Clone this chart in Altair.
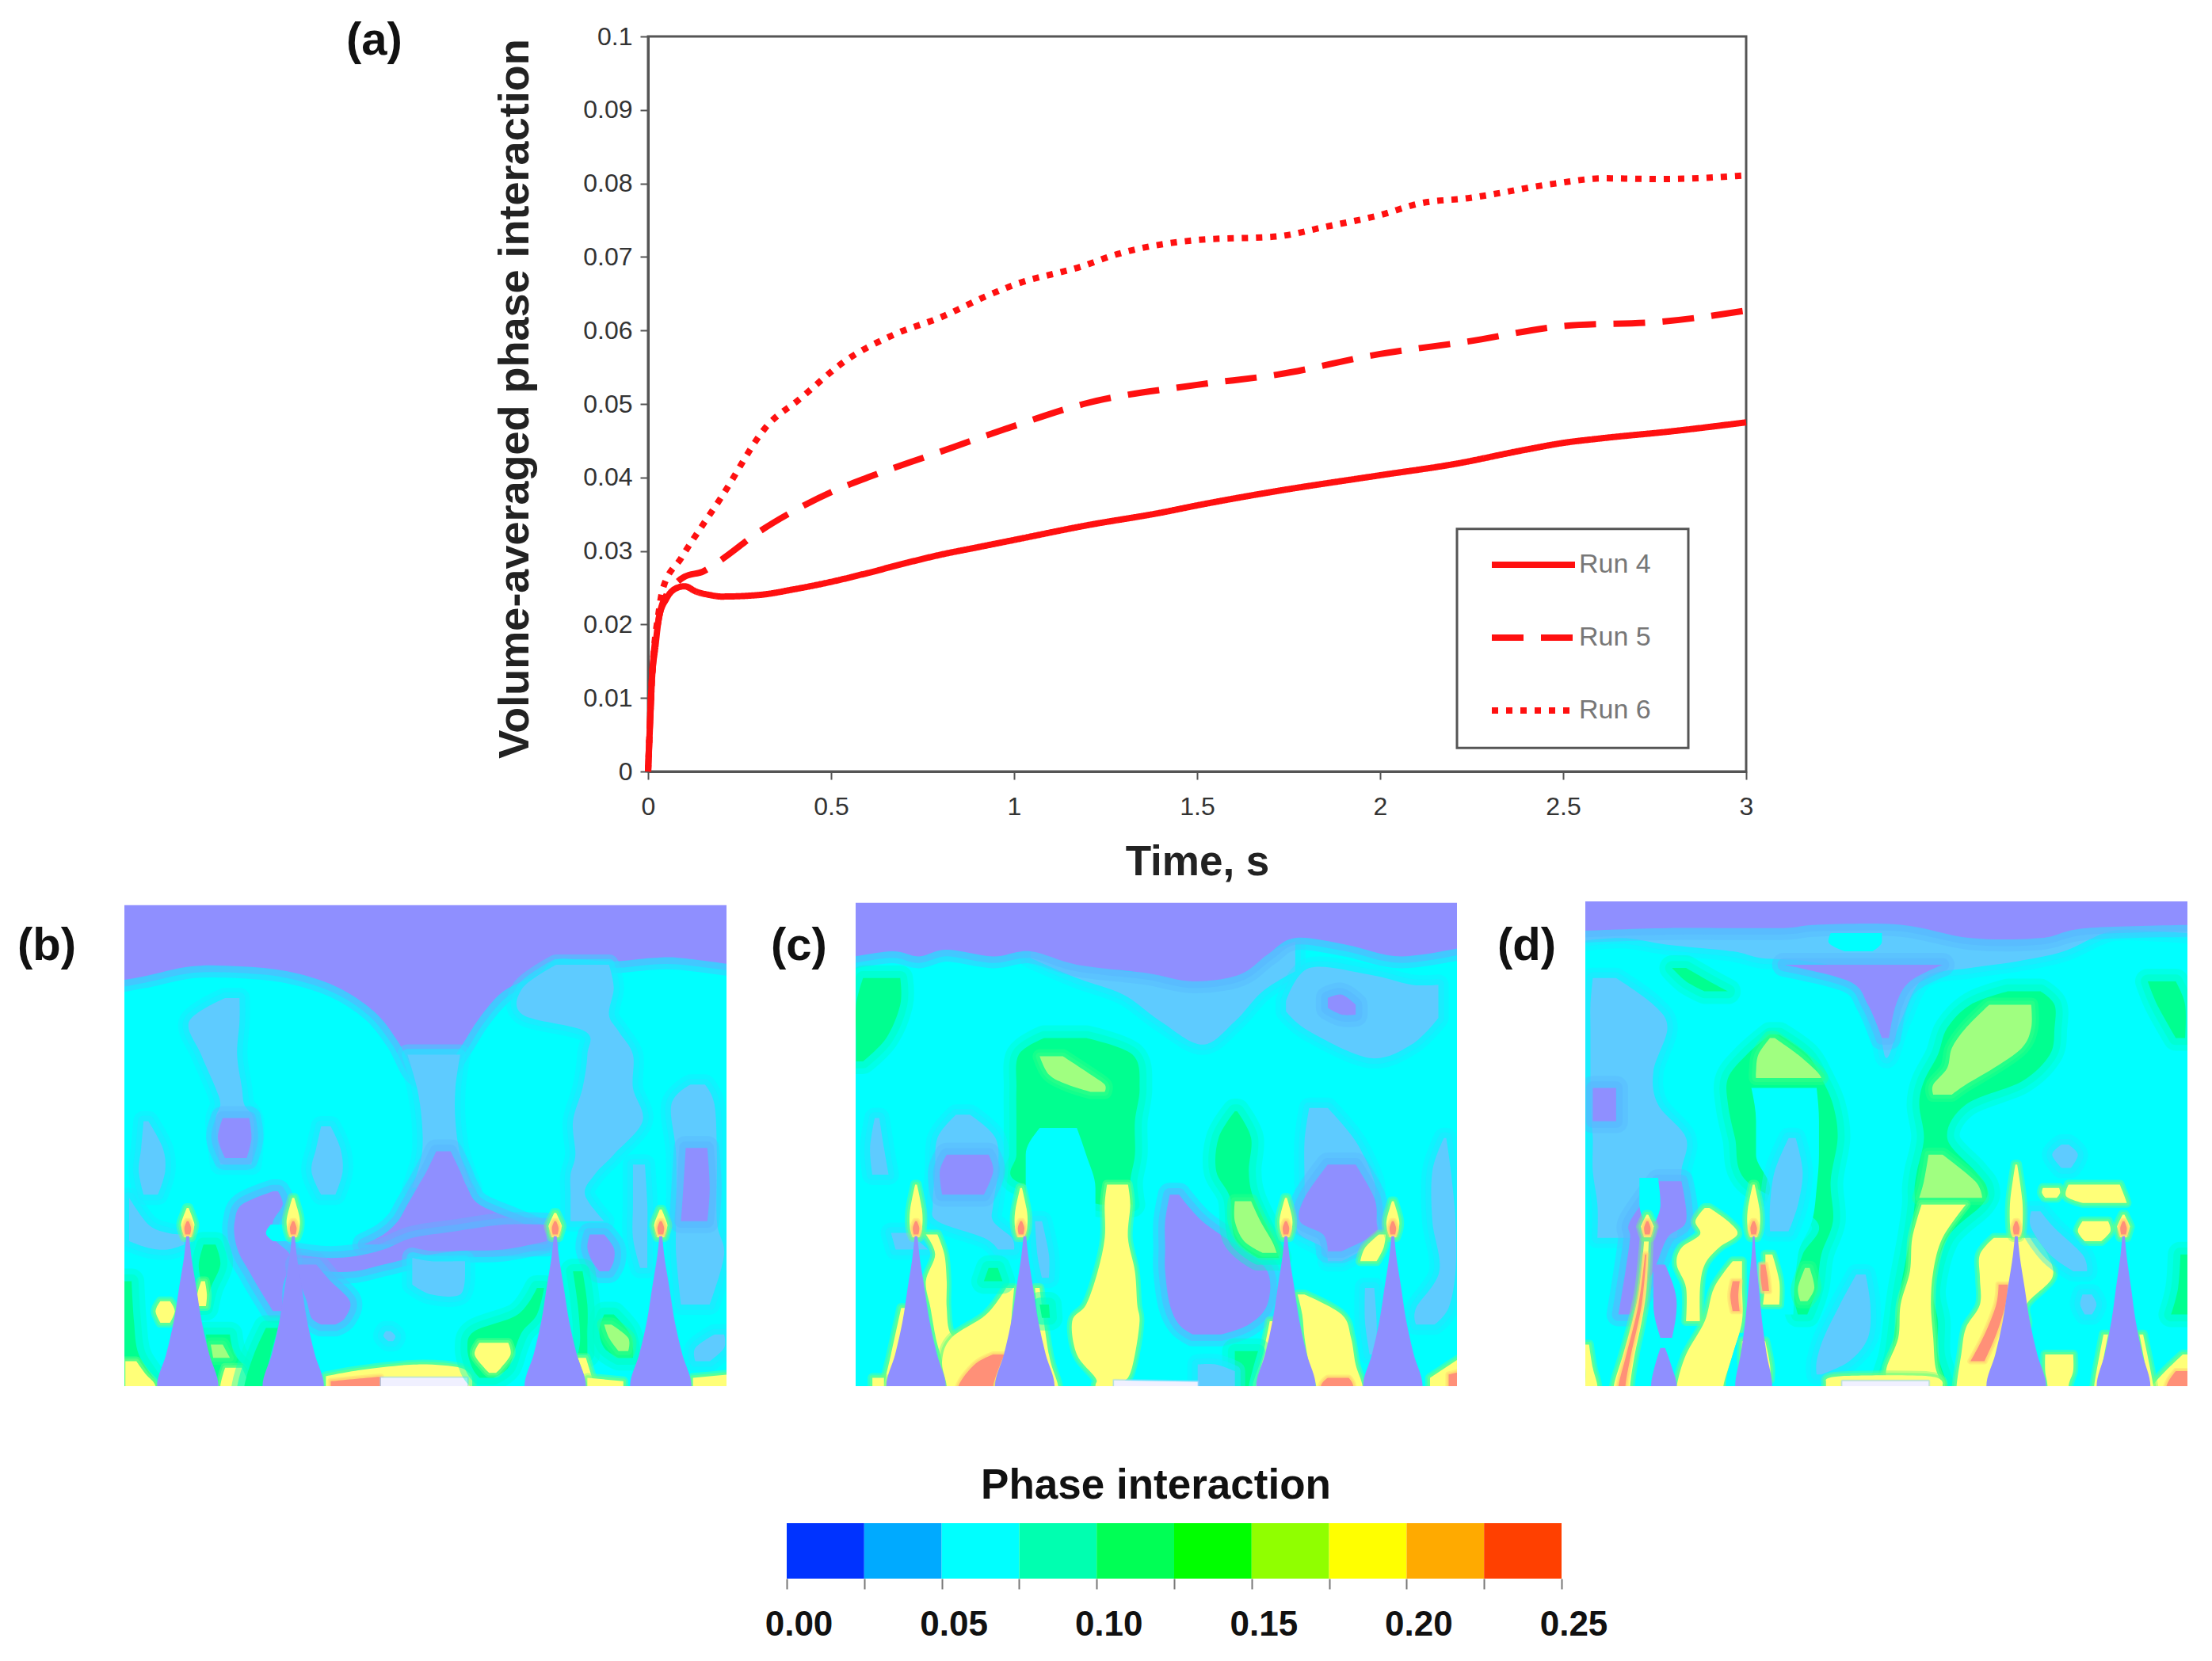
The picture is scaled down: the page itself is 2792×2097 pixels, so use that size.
import altair as alt
import pandas as pd

# ---------- panel (a) curves ----------
RUN4_T = [0, .005, .01, .02, .03, .05, .08, .1, .13, .17, .2, .3, .4, .5, .6, .7, .8, .9, 1, 1.2, 1.4, 1.5, 1.7, 2, 2.2, 2.4, 2.5, 2.6, 2.8, 3]
RUN4_V = [0, .006, .012, .017, .021, .0235, .025, .0252, .0245, .024, .0238, .024, .0248, .0258, .027, .0283, .0295, .0305, .0315, .0335, .0352, .0362, .038, .0403, .0418, .0438, .0447, .0453, .0463, .0475]
RUN5_T = [0, .01, .03, .05, .08, .1, .15, .2, .3, .4, .5, .6, .77, 1, 1.19, 1.5, 1.72, 2, 2.24, 2.5, 2.77, 3]
RUN5_V = [0, .012, .021, .024, .0258, .0265, .0272, .0288, .0325, .0355, .038, .04, .043, .047, .05, .0526, .054, .0568, .0585, .0606, .0612, .0627]
RUN6_T = [0, .01, .03, .04, .09, .2, .33, .41, .54, .67, .8, .93, 1, 1.19, 1.27, 1.5, 1.72, 1.85, 2, 2.11, 2.24, 2.48, 2.61, 2.77, 3]
RUN6_V = [0, .012, .022, .0248, .029, .0373, .0473, .0505, .0559, .0594, .0618, .0648, .0662, .0688, .0702, .0723, .0728, .0741, .0757, .0773, .078, .08, .0807, .0806, .0811]
RUNS = ["Run 4", "Run 5", "Run 6"]
X_TICKS = [0, .5, 1, 1.5, 2, 2.5, 3]
Y_TICKS = [0, .01, .02, .03, .04, .05, .06, .07, .08, .09, .1]
LEGEND_BOX = {"x": 2.21, "x2": 2.842, "y": .033, "y2": .0032}

# ---------- colour scale ----------
BAR_LOW = [0, .025, .05, .075, .1, .125, .15, .175, .2, .225]
BAR_HIGH = [.025, .05, .075, .1, .125, .15, .175, .2, .225, .25]
BAR_COLOURS = ["#0033ff", "#00aaff", "#00ffff", "#00ffb0", "#00ff55", "#00ff00", "#90ff00", "#ffff00", "#ffaa00", "#ff4000"]
BAR_TICKS = [0, .025, .05, .075, .1, .125, .15, .175, .2, .225, .25]

# ---------- contour regions: (level, orientation, [(along, low, high), ...]) ----------
# "h" rows are (y, x-left, x-right); "v" rows are (x, y-top, y-bottom)
STYLE = {
    "cy": ("#00ffff", None, 0),
    "nd": ("#8f8fff", None, 0),
    "bk": ("#ffffff", None, 0),
    "pu": ("#8f8fff", "#58b8ff", 30),
    "mb": ("#5ecbff", "#20e8ff", 26),
    "gr": ("#00ff90", "#00ffc8", 32),
    "lg": ("#a0ff80", "#30ff88", 18),
    "ye": ("#ffff78", "#70ff80", 12),
    "or": ("#ff9078", "#ffd070", 8),
    "wh": ("#f0f0ff", "#a0d8ff", 4),
}
NEEDLE = [(1045, 3), (1100, 7), (1200, 18), (1300, 29), (1400, 45), (1495, 64)]

PANEL_B = [
    ("pu", "v", [(260, 50, 285), (300, 50, 265), (400, 50, 235), (500, 50, 235), (600, 50, 250), (700, 50, 295), (780, 50, 370), (830, 50, 460), (870, 50, 560), (920, 50, 560), (960, 50, 480), (1000, 50, 390), (1050, 50, 310), (1120, 50, 260), (1160, 50, 215), (1210, 50, 215), (1280, 50, 220), (1360, 50, 210), (1420, 50, 210), (1515, 50, 235)]),
    ("mb", "h", [(500, 850, 960), (600, 870, 950), (700, 880, 950), (800, 880, 960), (900, 860, 985)]),
    ("mb", "h", [(230, 1160, 1270), (300, 1090, 1280), (380, 1090, 1270), (430, 1220, 1290), (500, 1225, 1320), (600, 1215, 1320), (700, 1195, 1340), (800, 1200, 1280), (860, 1190, 1240), (920, 1190, 1220), (1000, 1190, 1260)]),
    ("pu", "h", [(790, 910, 940), (850, 890, 960), (900, 870, 975), (950, 850, 1000), (1000, 830, 1080), (1040, 800, 1140), (1070, 760, 1140)]),
    ("pu", "v", [(620, 1100, 1130), (680, 1110, 1150), (740, 1105, 1150), (800, 1085, 1130), (860, 1050, 1110), (950, 1030, 1090), (1050, 1010, 1085), (1140, 1010, 1060)]),
    ("mb", "v", [(860, 1110, 1190), (900, 1120, 1220), (960, 1120, 1220), (970, 1120, 1150)]),
    ("mb", "h", [(330, 470, 500), (400, 395, 500), (500, 420, 495), (600, 450, 505), (650, 460, 510), (700, 450, 530), (830, 460, 525)]),
    ("pu", "h", [(690, 465, 520), (750, 455, 525), (810, 470, 515)]),
    ("mb", "h", [(700, 300, 310), (780, 295, 340), (850, 290, 345), (920, 300, 330)]),
    ("mb", "h", [(715, 670, 690), (780, 660, 710), (850, 650, 715), (920, 670, 700)]),
    ("mb", "v", [(270, 930, 1060), (310, 1010, 1080), (350, 1035, 1085), (385, 1040, 1070)]),
    ("pu", "h", [(910, 570, 580), (950, 505, 590), (1000, 490, 570), (1050, 490, 570), (1100, 500, 605), (1150, 520, 600), (1200, 540, 590), (1270, 570, 590)]),
    ("pu", "h", [(1130, 620, 660), (1180, 625, 690), (1240, 640, 730), (1290, 650, 720), (1310, 670, 700)]),
    ("cy", "h", [(1010, 565, 590), (1035, 555, 600), (1060, 570, 600)]),
    ("pu", "h", [(1040, 1230, 1260), (1080, 1225, 1280), (1120, 1235, 1280), (1150, 1250, 1270)]),
    ("mb", "h", [(830, 1320, 1345), (950, 1320, 1350), (1050, 1320, 1350), (1140, 1335, 1350)]),
    ("mb", "h", [(590, 1440, 1470), (650, 1400, 1490), (800, 1410, 1495), (1000, 1410, 1495), (1100, 1410, 1510), (1250, 1420, 1480)]),
    ("pu", "h", [(780, 1430, 1475), (900, 1425, 1480), (1000, 1420, 1475)]),
    ("gr", "h", [(1070, 425, 450), (1130, 415, 460), (1200, 420, 440), (1260, 410, 430)]),
    ("ye", "h", [(1180, 420, 428), (1220, 412, 432), (1255, 415, 430)]),
    ("ye", "h", [(1240, 335, 355), (1270, 325, 365), (1305, 335, 355)]),
    ("gr", "h", [(1180, 260, 275), (1300, 260, 280), (1400, 260, 290), (1495, 260, 330)]),
    ("ye", "h", [(1420, 262, 285), (1460, 262, 305), (1495, 262, 325)]),
    ("gr", "h", [(1340, 430, 480), (1400, 435, 490), (1450, 440, 520), (1495, 455, 530)]),
    ("lg", "h", [(1370, 440, 465), (1410, 445, 480)]),
    ("ye", "h", [(1440, 470, 505), (1495, 460, 520)]),
    ("gr", "h", [(1320, 555, 580), (1400, 530, 565), (1495, 510, 550)]),
    ("ye", "v", [(680, 1465, 1495), (760, 1445, 1495), (870, 1430, 1495), (960, 1440, 1495), (985, 1470, 1495)]),
    ("or", "v", [(690, 1480, 1495), (780, 1468, 1495), (795, 1468, 1495)]),
    ("wh", "v", [(795, 1470, 1495), (975, 1470, 1495)]),
    ("gr", "h", [(1200, 1120, 1135), (1280, 1080, 1120), (1330, 990, 1090), (1380, 975, 1075), (1440, 985, 1060), (1470, 1000, 1030)]),
    ("ye", "h", [(1365, 1000, 1060), (1400, 990, 1065), (1440, 1010, 1045), (1455, 1020, 1035)]),
    ("gr", "h", [(1150, 1195, 1215), (1250, 1205, 1225), (1350, 1210, 1225), (1400, 1205, 1225)]),
    ("ye", "h", [(1410, 1205, 1222), (1470, 1220, 1235), (1495, 1225, 1240)]),
    ("gr", "h", [(1280, 1260, 1280), (1330, 1250, 1310), (1380, 1260, 1320), (1410, 1290, 1320)]),
    ("lg", "h", [(1310, 1260, 1275), (1350, 1270, 1310), (1390, 1290, 1310)]),
    ("ye", "v", [(1225, 1470, 1495), (1300, 1480, 1495)]),
    ("ye", "v", [(1445, 1470, 1495), (1515, 1455, 1495)]),
    ("mb", "h", [(1340, 1490, 1510), (1380, 1450, 1510), (1420, 1450, 1480)]),
    ("mb", "h", [(1330, 805, 815), (1345, 800, 825), (1360, 810, 820)]),
]
FLAMES_B = [(392, 960), (612, 930), (1158, 975), (1378, 965)]
NEEDLES_B = [392, 612, 1158, 1378]

PANEL_C = [
    ("mb", "v", [(600, 190, 210), (700, 210, 270), (800, 250, 320), (880, 250, 400), (970, 270, 470), (1040, 250, 400), (1100, 200, 310), (1170, 160, 250)]),
    ("pu", "v", [(224, 45, 215), (300, 45, 190), (360, 45, 205), (420, 45, 185), (520, 45, 205), (600, 45, 190), (700, 45, 230), (850, 45, 255), (950, 45, 280), (1050, 45, 260), (1110, 45, 200), (1170, 45, 150), (1280, 45, 170), (1400, 45, 205), (1518, 45, 170)]),
    ("mb", "v", [(1150, 340, 370), (1200, 240, 430), (1330, 260, 510), (1420, 290, 470), (1478, 290, 390)]),
    ("pu", "v", [(1240, 330, 360), (1270, 320, 380), (1300, 350, 380)]),
    ("gr", "h", [(270, 240, 320), (350, 225, 320), (450, 225, 290), (520, 225, 240)]),
    ("gr", "h", [(450, 630, 720), (500, 575, 820), (600, 570, 835), (700, 570, 825), (800, 570, 825), (880, 570, 815), (950, 750, 820)]),
    ("cy", "h", [(720, 620, 700), (800, 590, 720), (900, 590, 740), (1000, 590, 740), (1100, 640, 740), (1200, 640, 720)]),
    ("lg", "h", [(505, 620, 670), (560, 640, 730), (590, 680, 760), (612, 730, 760)]),
    ("ye", "h", [(890, 765, 810), (950, 760, 815), (1050, 760, 810), (1150, 745, 825), (1250, 720, 830), (1300, 690, 835), (1400, 700, 825), (1470, 740, 810), (1495, 740, 780)]),
    ("mb", "h", [(680, 440, 470), (750, 400, 525), (850, 395, 530), (950, 390, 520), (1000, 400, 520), (1050, 500, 560), (1085, 530, 565)]),
    ("pu", "h", [(800, 420, 510), (850, 405, 520), (920, 410, 500)]),
    ("mb", "h", [(690, 265, 275), (780, 255, 285), (860, 260, 295)]),
    ("mb", "h", [(1035, 300, 340), (1085, 310, 380)]),
    ("mb", "h", [(1000, 610, 625), (1100, 615, 640), (1170, 625, 640)]),
    ("ye", "h", [(1040, 375, 400), (1100, 395, 415), (1180, 375, 420), (1260, 385, 420), (1340, 395, 430), (1370, 400, 480), (1420, 410, 530), (1495, 420, 525)]),
    ("ye", "h", [(1200, 548, 565), (1280, 505, 560), (1350, 430, 555), (1420, 410, 545), (1495, 420, 520)]),
    ("or", "h", [(1400, 520, 545), (1430, 480, 535), (1495, 445, 520)]),
    ("ye", "h", [(1260, 322, 335), (1400, 300, 315), (1495, 285, 295)]),
    ("gr", "h", [(1140, 510, 530), (1180, 500, 540)]),
    ("pu", "h", [(920, 900, 920), (1000, 890, 970), (1080, 890, 1050), (1150, 890, 1110), (1250, 900, 1110), (1310, 920, 1070), (1340, 950, 1010)]),
    ("gr", "h", [(670, 1040, 1045), (750, 1005, 1075), (850, 1000, 1070), (930, 1030, 1080), (1050, 1040, 1120), (1110, 1090, 1135)]),
    ("lg", "h", [(940, 1040, 1075), (1000, 1040, 1095), (1060, 1060, 1120), (1095, 1100, 1130)]),
    ("mb", "h", [(660, 1200, 1240), (760, 1190, 1300), (880, 1190, 1340), (950, 1190, 1340), (1030, 1175, 1350), (1080, 1230, 1320), (1120, 1240, 1270)]),
    ("pu", "h", [(830, 1240, 1300), (930, 1190, 1340), (1000, 1180, 1345), (1040, 1230, 1340), (1090, 1240, 1270)]),
    ("ye", "h", [(1040, 1350, 1365), (1080, 1320, 1360), (1120, 1310, 1345)]),
    ("ye", "h", [(1220, 1175, 1190), (1280, 1185, 1270), (1350, 1190, 1290), (1430, 1200, 1300), (1495, 1215, 1315)]),
    ("or", "h", [(1470, 1240, 1285), (1495, 1225, 1295)]),
    ("ye", "h", [(1300, 1115, 1125), (1400, 1100, 1110), (1495, 1078, 1090)]),
    ("gr", "h", [(1390, 1040, 1090), (1495, 1040, 1070)]),
    ("mb", "h", [(750, 1490, 1495), (850, 1465, 1505), (1000, 1465, 1515), (1150, 1480, 1515), (1260, 1430, 1500), (1310, 1430, 1470)]),
    ("mb", "h", [(1200, 1320, 1340), (1300, 1320, 1345), (1400, 1330, 1345)]),
    ("ye", "v", [(1460, 1470, 1495), (1518, 1380, 1495)]),
    ("or", "v", [(1500, 1460, 1495), (1518, 1440, 1495)]),
    ("mb", "v", [(960, 1430, 1495), (1000, 1430, 1495), (1040, 1450, 1495)]),
    ("wh", "v", [(780, 1478, 1495), (960, 1482, 1495)]),
    ("ye", "v", [(260, 1470, 1495), (285, 1470, 1495)]),
    ("ye", "h", [(1200, 610, 620), (1400, 625, 640), (1495, 650, 660)]),
    ("gr", "h", [(1250, 620, 640), (1290, 625, 642)]),
]
FLAMES_C = [(354, 890), (580, 900), (1150, 930), (1380, 940)]
NEEDLES_C = [354, 588, 1150, 1380]

PANEL_D = [
    ("mb", "v", [(224, 40, 165), (300, 40, 150), (400, 40, 170), (540, 40, 190), (600, 40, 210), (700, 40, 220), (800, 40, 260), (850, 40, 400), (870, 40, 510), (900, 40, 400), (950, 40, 270), (1050, 40, 240), (1150, 40, 220), (1250, 40, 190), (1350, 40, 130), (1450, 40, 130), (1515, 40, 140)]),
    ("pu", "v", [(224, 40, 130), (400, 40, 120), (640, 40, 120), (720, 40, 110), (900, 40, 110), (1050, 40, 150), (1200, 40, 150), (1300, 40, 120), (1515, 40, 110)]),
    ("pu", "h", [(230, 650, 990), (280, 790, 920), (350, 830, 890), (450, 860, 875)]),
    ("cy", "h", [(135, 750, 860), (160, 745, 860), (190, 780, 840)]),
    ("mb", "h", [(270, 240, 290), (350, 235, 370), (420, 235, 400), (550, 235, 370), (650, 235, 380), (750, 240, 440), (850, 240, 430), (950, 250, 430), (1050, 250, 420)]),
    ("pu", "h", [(600, 240, 290), (700, 240, 290)]),
    ("pu", "h", [(880, 380, 430), (1000, 320, 440), (1050, 320, 400), (1150, 310, 370), (1280, 295, 320)]),
    ("cy", "h", [(870, 340, 380), (950, 340, 385), (1000, 350, 375)]),
    ("gr", "h", [(240, 410, 440), (280, 440, 490), (310, 480, 530)]),
    ("gr", "h", [(440, 620, 640), (500, 570, 700), (570, 530, 730), (650, 530, 755), (750, 545, 765), (880, 570, 750), (1000, 720, 755), (1100, 690, 730), (1200, 670, 720), (1280, 680, 700)]),
    ("cy", "h", [(600, 580, 720), (700, 590, 725), (800, 590, 725), (900, 620, 720), (1000, 600, 710), (1100, 620, 680), (1280, 650, 670)]),
    ("lg", "h", [(450, 620, 630), (500, 595, 680), (550, 590, 720), (570, 590, 730)]),
    ("lg", "h", [(1140, 695, 705), (1200, 680, 715), (1240, 685, 700)]),
    ("mb", "h", [(750, 660, 675), (850, 630, 690), (950, 620, 680), (1030, 620, 660)]),
    ("gr", "h", [(310, 1130, 1200), (350, 1050, 1230), (420, 1000, 1230), (500, 980, 1220), (580, 950, 1160), (650, 940, 1040), (750, 950, 1000), (850, 935, 1060), (900, 930, 1085), (950, 930, 1075), (1050, 920, 1000), (1200, 900, 970), (1300, 890, 980), (1400, 880, 980), (1495, 860, 1000)]),
    ("lg", "h", [(350, 1090, 1180), (420, 1040, 1180), (480, 1010, 1160), (540, 1000, 1100), (590, 970, 1040), (620, 970, 1010)]),
    ("lg", "h", [(800, 960, 990), (880, 950, 1060), (930, 940, 1075)]),
    ("ye", "h", [(950, 945, 1040), (1050, 925, 990), (1150, 920, 970), (1250, 900, 965), (1350, 895, 970), (1440, 870, 975), (1495, 870, 990)]),
    ("ye", "h", [(890, 1260, 1370), (925, 1255, 1380), (945, 1290, 1385)]),
    ("ye", "h", [(900, 1205, 1240), (915, 1203, 1242), (930, 1210, 1235)]),
    ("ye", "h", [(1000, 1290, 1345), (1030, 1280, 1350), (1060, 1295, 1330)]),
    ("ye", "h", [(960, 480, 490), (1000, 460, 530), (1040, 470, 550), (1080, 430, 510), (1130, 420, 480), (1200, 440, 470), (1300, 440, 470)]),
    ("ye", "h", [(1120, 540, 560), (1200, 500, 560), (1300, 480, 560), (1400, 440, 540), (1495, 420, 520)]),
    ("or", "h", [(1180, 540, 555), (1225, 535, 552), (1270, 540, 555)]),
    ("ye", "h", [(1100, 610, 625), (1180, 610, 640), (1250, 605, 640)]),
    ("or", "h", [(1130, 600, 610), (1170, 600, 615), (1210, 604, 618)]),
    ("ye", "h", [(1050, 1100, 1190), (1100, 1070, 1215), (1170, 1070, 1225), (1250, 1070, 1170), (1320, 1040, 1170), (1400, 1030, 1120), (1495, 1020, 1085)]),
    ("or", "h", [(1190, 1110, 1130), (1250, 1105, 1125), (1340, 1080, 1105), (1420, 1050, 1080)]),
    ("ye", "h", [(1400, 1210, 1270), (1450, 1210, 1270), (1495, 1215, 1260)]),
    ("mb", "h", [(970, 1180, 1200), (1020, 1180, 1230), (1100, 1220, 1290), (1150, 1270, 1300)]),
    ("mb", "h", [(770, 1245, 1260), (800, 1225, 1280), (840, 1245, 1265)]),
    ("mb", "h", [(1220, 1290, 1310), (1250, 1285, 1320), (1280, 1295, 1310)]),
    ("mb", "h", [(1160, 805, 825), (1250, 770, 835), (1350, 735, 830), (1420, 720, 790), (1460, 720, 730)]),
    ("gr", "h", [(280, 1430, 1490), (350, 1450, 1510), (450, 1490, 1510)]),
    ("ye", "h", [(1370, 220, 232), (1440, 224, 240), (1495, 224, 250)]),
    ("ye", "v", [(740, 1480, 1495), (770, 1465, 1495), (960, 1465, 1495), (990, 1490, 1495)]),
    ("wh", "v", [(775, 1480, 1495), (960, 1480, 1495)]),
    ("ye", "h", [(1400, 1505, 1515), (1495, 1440, 1515)]),
    ("or", "h", [(1450, 1490, 1515), (1495, 1470, 1515)]),
    ("gr", "h", [(1100, 1500, 1515), (1200, 1495, 1515), (1280, 1480, 1515)]),
    ("nd", "h", [(1130, 370, 395), (1250, 370, 420), (1350, 385, 410)]),
    ("nd", "h", [(1380, 385, 395), (1440, 372, 410), (1495, 365, 420)]),
    ("ye", "h", [(1060, 350, 360), (1200, 340, 355), (1300, 325, 345), (1400, 305, 330), (1495, 285, 320)]),
    ("or", "h", [(1100, 352, 355), (1250, 338, 345), (1400, 312, 322), (1495, 295, 310)]),
    ("cy", "h", [(1335, 555, 615), (1400, 540, 635), (1495, 525, 645)]),
    ("ye", "h", [(1360, 560, 610), (1430, 560, 620), (1475, 570, 620)]),
    ("or", "h", [(1390, 580, 595), (1440, 570, 610), (1465, 575, 605)]),
    ("ye", "h", [(1340, 1335, 1345), (1495, 1315, 1325)]),
    ("ye", "h", [(1340, 1412, 1420), (1495, 1432, 1442)]),
]
FLAMES_D = [(357, 980), (585, 890), (1148, 830), (1378, 980)]
NEEDLES_D = [(1148, 1.0), (1378, 0.9), (585, 0.62)]

PANEL_TOP = 40
PANEL_BOTTOM = 1495


def blob_layers(level, orient, rows, xdom, top):
    """One region as stacked areas: two soft halo strokes under a solid fill."""
    fill, stroke, sw = STYLE[level]
    rows = list(rows)
    x0, x1 = xdom
    if orient == "v":
        rows = [(x0 - 40 if t <= x0 + 2 else x1 + 40 if t >= x1 - 2 else t,
                 -60 if lo <= top else lo,
                 1560 if hi >= PANEL_BOTTOM - 5 else hi) for t, lo, hi in rows]
    elif rows[-1][0] >= PANEL_BOTTOM - 5:
        rows.append((1560, rows[-1][1], rows[-1][2]))
    df = pd.DataFrame(rows, columns=["t", "lo", "hi"])
    xs = alt.Scale(domain=xdom)
    ys = alt.Scale(domain=[PANEL_BOTTOM, PANEL_TOP])
    if orient == "h":
        enc = dict(y=alt.Y("t:Q", scale=ys, axis=None), x=alt.X("lo:Q", scale=xs, axis=None), x2="hi:Q")
    else:
        enc = dict(x=alt.X("t:Q", scale=xs, axis=None), y=alt.Y("lo:Q", scale=ys, axis=None), y2="hi:Q")
    curve = "monotone" if level in ("nd", "cy", "bk", "wh") else "cardinal"
    base = {"clip": True, "interpolate": curve, "fill": fill,
            "orient": "horizontal" if orient == "h" else "vertical"}
    out = []
    if stroke:
        out.append(alt.Chart(df).mark_area(stroke=stroke, strokeWidth=sw, strokeJoin="round", opacity=0.4, **base).encode(**enc))
        out.append(alt.Chart(df).mark_area(stroke=stroke, strokeWidth=sw * 0.55, strokeJoin="round", opacity=0.6, **base).encode(**enc))
    out.append(alt.Chart(df).mark_area(**base).encode(**enc))
    return out


def needle_rows(c, k=1.0):
    return [(y, c - w * k, c + w * k) for y, w in NEEDLE]


def flame_blobs(c, top):
    y_mid = (top + 1045) / 2
    return [
        ("ye", "h", [(top, c - 2, c + 2), (y_mid, c - 13, c + 13), (1020, c - 13, c + 13), (1048, c - 7, c + 7)]),
        ("or", "h", [(1000, c - 2, c + 2), (1020, c - 7, c + 7), (1040, c - 5, c + 5)]),
    ]


def panel(label, blobs, flames, needles, x0, x1, top, w, dx):
    xdom = [x0, x1]
    layers = []
    for b in [("cy", "v", [(x0, top, 1495), (x1, top, 1495)])] + blobs:
        layers += blob_layers(*b, xdom, top)
    for c, t in flames:
        for b in flame_blobs(c, t):
            layers += blob_layers(*b, xdom, top)
    for n in needles:
        c, k = n if isinstance(n, tuple) else (n, 1.0)
        layers += blob_layers("nd", "h", needle_rows(c, k), xdom, top)
    if top > PANEL_TOP:
        layers += blob_layers("bk", "v", [(x0, -60, top - 1), (x1, -60, top - 1)], xdom, -100)
    title = alt.TitleParams(label, anchor="start", frame="group", fontSize=58, font="Liberation Sans",
                            fontWeight="bold", color="#111111", dx=dx, dy=90, align="left")
    return alt.layer(*layers).properties(width=w, height=612, title=title)


def spacer(w, h):
    return alt.Chart(pd.DataFrame({"a": [0]})).mark_text(text="").encode(x=alt.value(0)).properties(width=w, height=h)


# ---------- panel (a) ----------
rows = []
for run, ts, vs in zip(RUNS, (RUN4_T, RUN5_T, RUN6_T), (RUN4_V, RUN5_V, RUN6_V)):
    rows += [{"t": t, "v": v, "run": run} for t, v in zip(ts, vs)]
curves = pd.DataFrame(rows)

x_scale = alt.Scale(domain=[0, 3], nice=False)
y_scale = alt.Scale(domain=[0, .1], nice=False)
lines = alt.Chart(curves).mark_line(color="#ff1010", strokeWidth=8, interpolate="monotone").encode(
    x=alt.X("t:Q", scale=x_scale, axis=alt.Axis(
        values=X_TICKS, format="~g", title="Time, s", titleFont="Liberation Sans", titleFontSize=53, titleColor="#222222",
        titlePadding=28, labelFont="Liberation Sans", labelFontSize=32, labelColor="#333333", labelPadding=19, labelFlush=False,
        tickColor="#555555", tickWidth=2, tickSize=10, domainColor="#555555", domainWidth=3, grid=False, labelOverlap=False)),
    y=alt.Y("v:Q", scale=y_scale, axis=alt.Axis(
        values=Y_TICKS, format="~g", title="Volume-averaged phase interaction", titleFont="Liberation Sans", titleFontSize=54,
        titleColor="#222222", titlePadding=58, titleY=457, labelFont="Liberation Sans", labelFontSize=32, labelColor="#333333",
        labelPadding=10, labelFlush=False, tickColor="#555555", tickWidth=2, tickSize=10, domainColor="#555555", domainWidth=3,
        grid=False, labelOverlap=False)),
    strokeDash=alt.StrokeDash("run:N", scale=alt.Scale(domain=RUNS, range=[[1, 0], [40, 22], [8, 10]]), legend=alt.Legend(
        title=None, orient="none", legendX=1722, legendY=621, padding=0, symbolType="stroke", symbolSize=11025,
        clipHeight=92, rowPadding=0, symbolStrokeColor="#ff1010", symbolStrokeWidth=8, labelFont="Liberation Sans",
        labelFontSize=34, labelColor="#777777", labelOffset=1)),
    detail="run:N",
)
box = alt.Chart(pd.DataFrame([LEGEND_BOX])).mark_rect(fill="white", stroke="#555555", strokeWidth=3).encode(
    x=alt.X("x:Q", scale=x_scale), x2="x2:Q", y=alt.Y("y:Q", scale=y_scale), y2="y2:Q")
chart_a = alt.layer(box, lines).properties(
    width=1386, height=928, view=alt.ViewBackground(stroke="#555555", strokeWidth=3),
    title=alt.TitleParams("(a)", anchor="start", frame="group", fontSize=58, font="Liberation Sans", fontWeight="bold",
                          color="#111111", dx=-381, dy=55, align="left"))

# ---------- panels (b)-(d) ----------
chart_b = panel("(b)", PANEL_B, FLAMES_B, NEEDLES_B, 260, 1515, 52, 760, -135)
chart_c = panel("(c)", PANEL_C, FLAMES_C, NEEDLES_C, 224, 1518, 45, 759, -107)
chart_d = panel("(d)", PANEL_D, FLAMES_D, NEEDLES_D, 224, 1515, 40, 760, -111)

# ---------- colour bar ----------
bar = pd.DataFrame({"lo": BAR_LOW, "hi": BAR_HIGH, "c": BAR_COLOURS})
chart_bar = alt.Chart(bar).mark_rect().encode(
    x=alt.X("lo:Q", scale=alt.Scale(domain=[0, .25], nice=False), axis=alt.Axis(
        values=BAR_TICKS, title=None, domain=False, tickColor="#777777", tickWidth=2, tickSize=13, labelFont="Liberation Sans",
        labelFontSize=44, labelFontWeight="bold", labelColor="#111111", labelPadding=23, labelOverlap=False, labelOffset=15, labelFlush=False,
        labelExpr="round(datum.value*1000) % 50 == 0 ? format(datum.value, '.2f') : ''", grid=False)),
    x2="hi:Q",
    y=alt.value(0), y2=alt.value(70),
    color=alt.Color("c:N", scale=None, legend=None),
).properties(width=978, height=70, title=alt.TitleParams(
    "Phase interaction", anchor="middle", frame="group", fontSize=53, font="Liberation Sans", fontWeight="bold", color="#111111",
    dx=-23, offset=20))

row_a = alt.hconcat(spacer(661, 928), chart_a, spacing=0, bounds="flush")
row_b = alt.hconcat(chart_b, spacer(163, 612), chart_c, spacer(162, 612), chart_d, spacing=0, bounds="flush")
row_c = alt.hconcat(spacer(836, 70), chart_bar, spacing=0, bounds="flush")
chart = alt.vconcat(row_a, spacer(1, 1092), row_b, spacer(1, 785), row_c, spacing=0, bounds="flush").properties(
    padding={"left": 14, "top": 13, "right": 0, "bottom": 0}
).configure_view(stroke=None).configure_axis(grid=False)

chart.save("out.html", embed_options={"renderer": "svg", "actions": False})
